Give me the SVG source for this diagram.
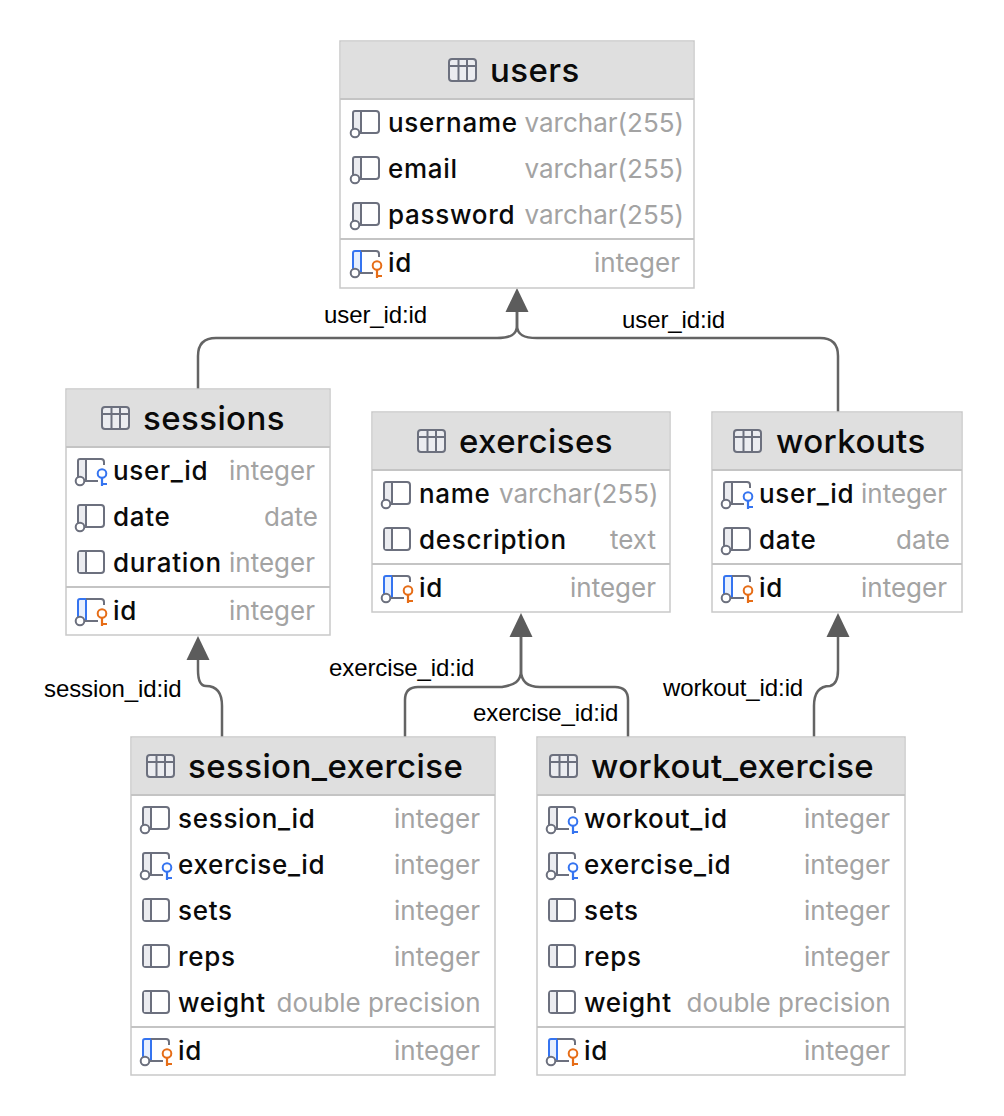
<svg xmlns="http://www.w3.org/2000/svg" width="1004" height="1116" viewBox="0 0 1004 1116">
<style>
.box{fill:#fff;stroke:#c9c9c9;stroke-width:1.5}
.hd{fill:#dfdfdf}
.sep{stroke:#c4c4c4;stroke-width:2;fill:none}
.title{font:500 33px Inter,"Noto Sans",sans-serif;fill:#0a0a0a;letter-spacing:.42px}
.f{font:500 26px Inter,"Noto Sans",sans-serif;fill:#0a0a0a;letter-spacing:.7px}
.t{font:400 26px Inter,"Noto Sans",sans-serif;fill:#a3a3a3}
.l{font:400 24px "Liberation Sans",Arial,sans-serif;fill:#000;letter-spacing:-.1px}
.c{fill:none;stroke:#646464;stroke-width:2.5}
.g{fill:none;stroke:#6c707e;stroke-width:2}
.a{fill:#5c5c5c}
</style>
<defs>
<g id="tbl"><rect x="0" y="0" width="27" height="22" rx="3" fill="#ebecf0" stroke="#6c707e" stroke-width="2"/><path d="M0 7H27M9.500 0V22M18 0V22" class="g"/></g>
<g id="col"><path d="M1 18V3a2 2 0 0 1 2-2H9V22H7" fill="#ebecf0"/><path d="M1 18V2a2 2 0 0 1 2-2H24a3 3 0 0 1 3 3V19a3 3 0 0 1-3 3H8M9 0V22" class="g"/><circle cx="3" cy="22" r="4.300" fill="#fff" stroke="#6c707e" stroke-width="2"/></g>
<g id="plain"><rect x="1" y="0" width="26" height="22" rx="3" fill="#fff" stroke="#6c707e" stroke-width="2"/><path d="M2 1H9V21H2Z" fill="#ebecf0"/><path d="M9 0V22" class="g"/></g>
<g id="fk"><path d="M1 18V3a2 2 0 0 1 2-2H9V22H7" fill="#ebecf0"/><path d="M1 18V2a2 2 0 0 1 2-2H24a3 3 0 0 1 3 3V6M9 0V22M8 22H21" class="g"/><circle cx="3" cy="22" r="4.300" fill="#fff" stroke="#6c707e" stroke-width="2"/><circle cx="25" cy="14.500" r="4.300" fill="#fff" stroke="#3574f0" stroke-width="2"/><path d="M25 19V27M25 25H30" fill="none" stroke="#3574f0" stroke-width="2.200"/></g>
<g id="pk"><path d="M1 18V3a2 2 0 0 1 2-2H9V22H7" fill="#e7effd"/><path d="M1 18V2a2 2 0 0 1 2-2H9V22" fill="none" stroke="#3574f0" stroke-width="2"/><path d="M9 0H24a3 3 0 0 1 3 3V6M10 22H21M8 22H10" class="g"/><circle cx="3" cy="22" r="4.300" fill="#fff" stroke="#6c707e" stroke-width="2"/><circle cx="25" cy="14.500" r="4.300" fill="#fff" stroke="#e66d17" stroke-width="2"/><path d="M25 19V27M25 25H30" fill="none" stroke="#e66d17" stroke-width="2.200"/></g>
<clipPath id="dc"><rect x="415" y="520" width="151" height="40"/></clipPath>
</defs>
<g id="connectors">
<path class="c" d="M198 389V356Q198 338 216 338H497C510 338 517 335 517 325V310"/>
<path class="c" d="M838 412V356Q838 338 820 338H537C524 338 517 335 517 325V310"/>
<path class="a" d="M517 288L505.500 312H528.500Z"/>
<path class="c" d="M222 737V706Q222 686 206 686Q198 686 198 670V658"/>
<path class="a" d="M198 636L186.500 660H209.500Z"/>
<path class="c" d="M405 737V700Q405 687 418 687H502C514 685 521 682 521 670V635"/>
<path class="c" d="M628 737V700Q628 687 615 687H540C528 687 521 682 521 670V635"/>
<path class="a" d="M521 613L509.500 637H532.500Z"/>
<path class="c" d="M814 737V706Q814 686 830 686Q838 684 838 670V635"/>
<path class="a" d="M838 613L826.500 637H849.500Z"/>
<text class="l" x="324" y="323">user_id:id</text>
<text class="l" x="622" y="328">user_id:id</text>
<text class="l" x="44" y="697">session_id:id</text>
<text class="l" x="329" y="676">exercise_id:id</text>
<text class="l" x="473" y="721">exercise_id:id</text>
<text class="l" x="663" y="696">workout_id:id</text>
</g>
<g id="users">
<rect class="box" x="340" y="41" width="354" height="247"/><rect class="hd" x="341" y="42" width="352" height="56"/><path class="sep" d="M340 99H694M340 239H694"/>
<use href="#tbl" x="449" y="59"/><text class="title" x="490" y="82">users</text>
<use href="#col" x="352" y="111"/><text class="f" x="388" y="132">username</text><text class="t" x="524.500" y="132">varchar(255)</text>
<use href="#col" x="352" y="157"/><text class="f" x="388" y="178">email</text><text class="t" x="524.500" y="178">varchar(255)</text>
<use href="#col" x="352" y="203"/><text class="f" x="388" y="224">password</text><text class="t" x="524.500" y="224">varchar(255)</text>
<use href="#pk" x="352" y="251"/><text class="f" x="388" y="272">id</text><text class="t" x="594" y="272">integer</text>
</g>
<g id="sessions">
<rect class="box" x="66" y="389" width="264" height="246"/><rect class="hd" x="67" y="390" width="262" height="56"/><path class="sep" d="M66 447H330M66 587H330"/>
<use href="#tbl" x="102" y="407"/><text class="title" x="143" y="430">sessions</text>
<use href="#fk" x="77" y="459"/><text class="f" x="113" y="480">user_id</text><text class="t" x="229" y="480">integer</text>
<use href="#col" x="77" y="505"/><text class="f" x="113" y="526">date</text><text class="t" x="264" y="526">date</text>
<use href="#plain" x="77" y="551"/><text class="f" x="113" y="572">duration</text><text class="t" x="229" y="572">integer</text>
<use href="#pk" x="77" y="599"/><text class="f" x="113" y="620">id</text><text class="t" x="229" y="620">integer</text>
</g>
<g id="exercises">
<rect class="box" x="372" y="412" width="298" height="200"/><rect class="hd" x="373" y="413" width="296" height="56"/><path class="sep" d="M372 470H670M372 564H670"/>
<use href="#tbl" x="418" y="430"/><text class="title" x="459" y="453">exercises</text>
<use href="#col" x="383" y="482"/><text class="f" x="419" y="503">name</text><text class="t" x="499" y="503">varchar(255)</text>
<use href="#plain" x="383" y="528"/><text class="f" x="419" y="549" clip-path="url(#dc)">description</text><text class="t" x="610" y="549">text</text>
<use href="#pk" x="383" y="576"/><text class="f" x="419" y="597">id</text><text class="t" x="570" y="597">integer</text>
</g>
<g id="workouts">
<rect class="box" x="712" y="412" width="250" height="200"/><rect class="hd" x="713" y="413" width="248" height="56"/><path class="sep" d="M712 470H962M712 564H962"/>
<use href="#tbl" x="734" y="430"/><text class="title" x="776" y="453">workouts</text>
<use href="#fk" x="723" y="482"/><text class="f" x="759" y="503">user_id</text><text class="t" x="861" y="503">integer</text>
<use href="#col" x="723" y="528"/><text class="f" x="759" y="549">date</text><text class="t" x="896" y="549">date</text>
<use href="#pk" x="723" y="576"/><text class="f" x="759" y="597">id</text><text class="t" x="861" y="597">integer</text>
</g>
<g id="session_exercise">
<rect class="box" x="131" y="737" width="364" height="338"/><rect class="hd" x="132" y="738" width="362" height="56"/><path class="sep" d="M131 795H495M131 1027H495"/>
<use href="#tbl" x="147" y="755"/><text class="title" x="188" y="778">session_exercise</text>
<use href="#col" x="142" y="807"/><text class="f" x="178" y="828">session_id</text><text class="t" x="394" y="828">integer</text>
<use href="#fk" x="142" y="853"/><text class="f" x="178" y="874">exercise_id</text><text class="t" x="394" y="874">integer</text>
<use href="#plain" x="142" y="899"/><text class="f" x="178" y="920">sets</text><text class="t" x="394" y="920">integer</text>
<use href="#plain" x="142" y="945"/><text class="f" x="178" y="966">reps</text><text class="t" x="394" y="966">integer</text>
<use href="#plain" x="142" y="991"/><text class="f" x="178" y="1012">weight</text><text class="t" x="276.500" y="1012">double precision</text>
<use href="#pk" x="142" y="1039"/><text class="f" x="178" y="1060">id</text><text class="t" x="394" y="1060">integer</text>
</g>
<g id="workout_exercise">
<rect class="box" x="537" y="737" width="368" height="338"/><rect class="hd" x="538" y="738" width="366" height="56"/><path class="sep" d="M537 795H905M537 1027H905"/>
<use href="#tbl" x="550" y="755"/><text class="title" x="591" y="778">workout_exercise</text>
<use href="#fk" x="548" y="807"/><text class="f" x="584" y="828">workout_id</text><text class="t" x="804" y="828">integer</text>
<use href="#fk" x="548" y="853"/><text class="f" x="584" y="874">exercise_id</text><text class="t" x="804" y="874">integer</text>
<use href="#plain" x="548" y="899"/><text class="f" x="584" y="920">sets</text><text class="t" x="804" y="920">integer</text>
<use href="#plain" x="548" y="945"/><text class="f" x="584" y="966">reps</text><text class="t" x="804" y="966">integer</text>
<use href="#plain" x="548" y="991"/><text class="f" x="584" y="1012">weight</text><text class="t" x="686.500" y="1012">double precision</text>
<use href="#pk" x="548" y="1039"/><text class="f" x="584" y="1060">id</text><text class="t" x="804" y="1060">integer</text>
</g>
</svg>
